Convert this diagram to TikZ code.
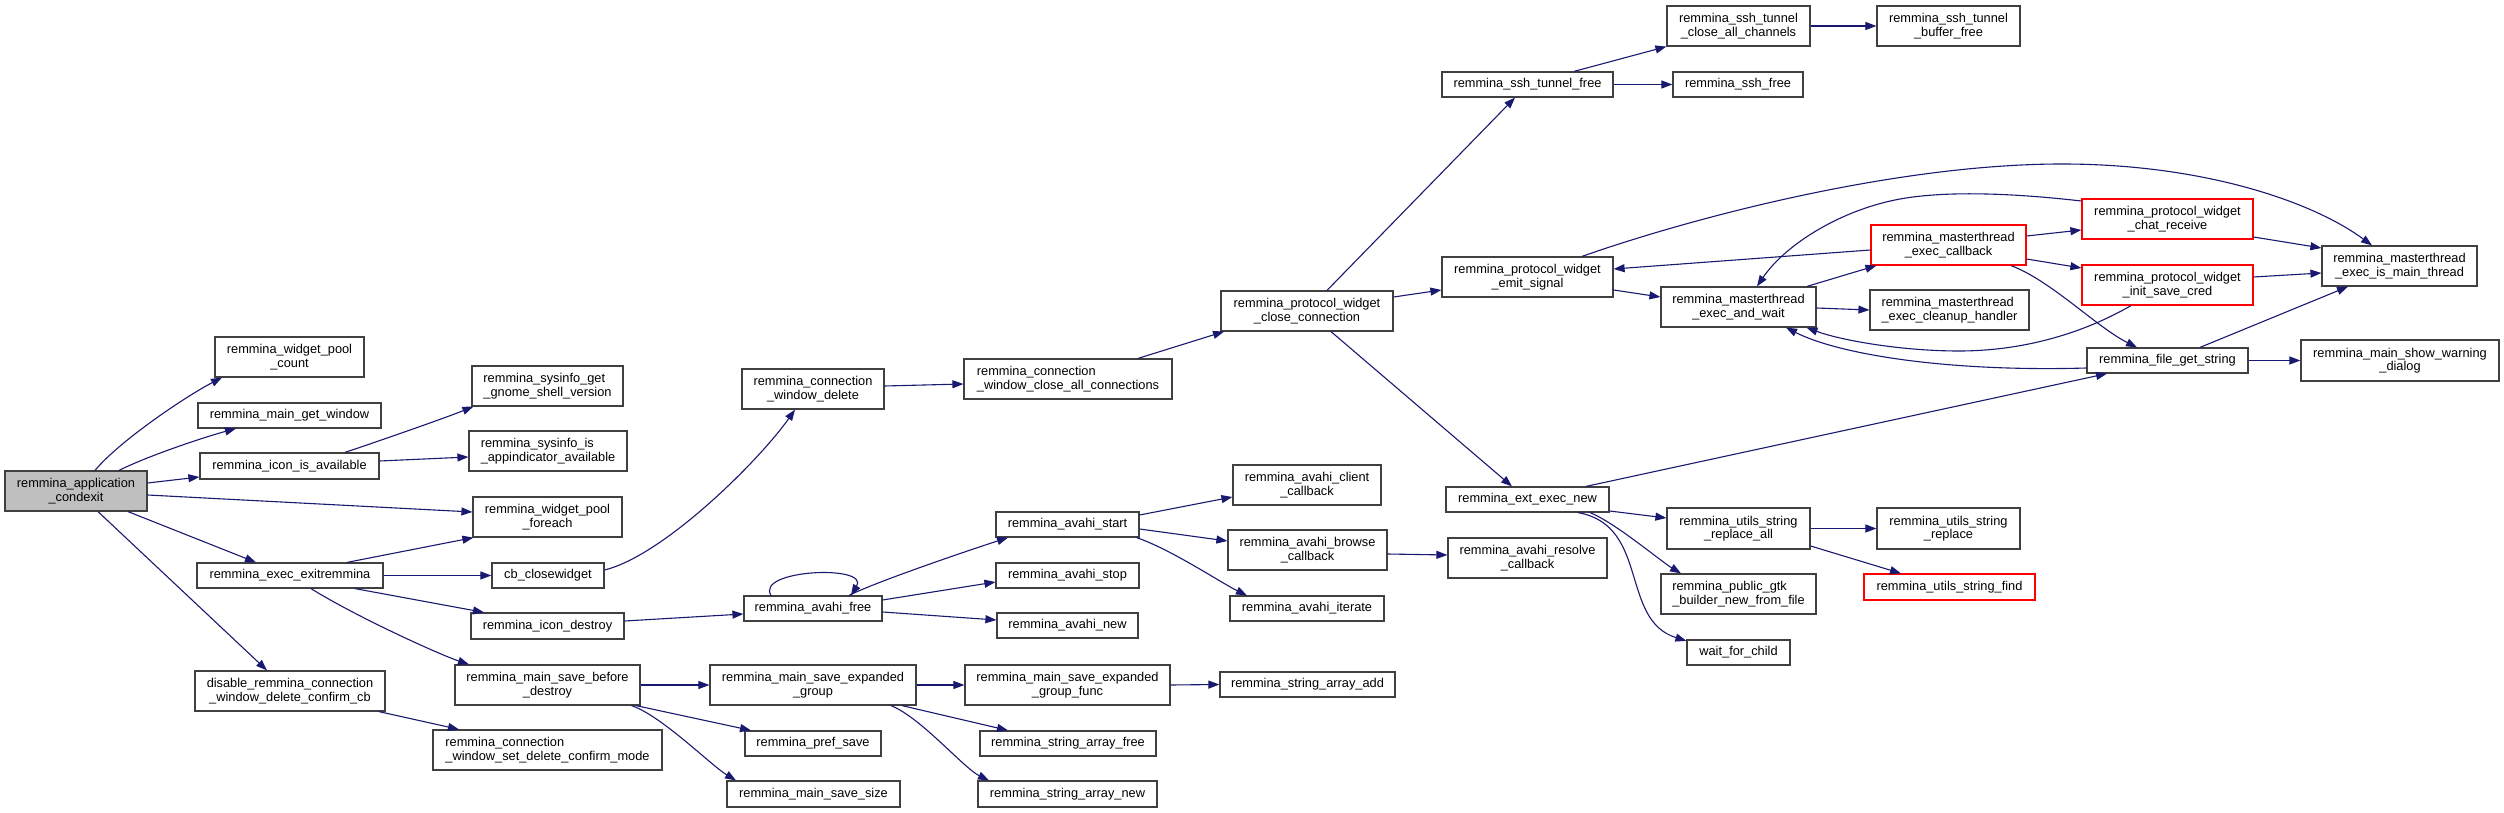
\documentclass[tikz,border=0pt]{standalone}
\usepackage{fontspec}
\usetikzlibrary{arrows.meta}
\newfontfamily\fnfont{Liberation Sans}
\definecolor{edgeblue}{HTML}{191970}
\definecolor{boxline}{HTML}{404040}
\newcommand\mkfn[6]{\node[#1,minimum width=#4pt,minimum height=#5pt] (#2) at (#3) {#6};}
\tikzset{
  fn/.style={draw=boxline, line width=1.2pt, fill=white, inner sep=0pt, align=center,
    font={\fnfont\fontsize{12.8pt}{13.6pt}\selectfont}},
  fnl/.style={fn, align=left},
  fnred/.style={fn, draw=red},
  fnroot/.style={fn, fill=black!25},
  call/.style={draw=edgeblue, line width=1.1pt, -{Triangle[length=11pt,width=8pt]}},
}
\begin{document}
\begin{tikzpicture}[x=1pt,y=-1pt]
\path[fill=white, use as bounding box] (0,0) rectangle (2504,813);

\mkfn{fnroot}{root}{76,491}{142}{40}{remmina\_application\\\_condexit}
\mkfn{fn}{wpcount}{289.5,357}{149}{40}{remmina\_widget\_pool\\\_count}
\mkfn{fn}{getwin}{289.5,415.5}{183}{25}{remmina\_main\_get\_window}
\mkfn{fn}{iconavail}{289.5,466}{179}{26}{remmina\_icon\_is\_available}
\mkfn{fn}{exitrem}{290,575.5}{186}{25}{remmina\_exec\_exitremmina}
\mkfn{fn}{disable}{290,691}{190}{40}{disable\_remmina\_connection\\\_window\_delete\_confirm\_cb}
\mkfn{fnl}{sysget}{547.5,386}{151}{40}{remmina\_sysinfo\_get\\\_gnome\_shell\_version}
\mkfn{fnl}{sysis}{548,451}{158}{40}{remmina\_sysinfo\_is\\\_appindicator\_available}
\mkfn{fn}{wpforeach}{547.5,517}{149}{40}{remmina\_widget\_pool\\\_foreach}
\mkfn{fn}{cbclose}{548,575.5}{112}{25}{cb\_closewidget}
\mkfn{fn}{icondestroy}{547.5,626}{153}{26}{remmina\_icon\_destroy}
\mkfn{fn}{savebefore}{547.5,685}{185}{40}{remmina\_main\_save\_before\\\_destroy}
\mkfn{fnl}{setconfirm}{547.5,750}{229}{40}{remmina\_connection\\\_window\_set\_delete\_confirm\_mode}
\mkfn{fn}{connwindel}{813,389}{142}{40}{remmina\_connection\\\_window\_delete}
\mkfn{fn}{avahifree}{813,608.5}{138}{25}{remmina\_avahi\_free}
\mkfn{fn}{saveexp}{813,685}{206}{40}{remmina\_main\_save\_expanded\\\_group}
\mkfn{fn}{prefsave}{813,743.5}{136}{25}{remmina\_pref\_save}
\mkfn{fn}{savesize}{813.5,794}{173}{26}{remmina\_main\_save\_size}
\mkfn{fnl}{closeall}{1068,379}{208}{40}{remmina\_connection\\\_window\_close\_all\_connections}
\mkfn{fn}{avahistart}{1067.5,524.5}{143}{25}{remmina\_avahi\_start}
\mkfn{fn}{avahistop}{1067.5,575.5}{143}{25}{remmina\_avahi\_stop}
\mkfn{fn}{avahinew}{1067.5,625.5}{141}{25}{remmina\_avahi\_new}
\mkfn{fn}{expfunc}{1067.5,685}{205}{40}{remmina\_main\_save\_expanded\\\_group\_func}
\mkfn{fn}{strfree}{1068,743.5}{176}{25}{remmina\_string\_array\_free}
\mkfn{fn}{strnew}{1067.5,794}{179}{26}{remmina\_string\_array\_new}
\mkfn{fn}{closeconn}{1307,311}{172}{40}{remmina\_protocol\_widget\\\_close\_connection}
\mkfn{fn}{clientcb}{1307,485}{148}{40}{remmina\_avahi\_client\\\_callback}
\mkfn{fn}{browsecb}{1307.5,550}{159}{40}{remmina\_avahi\_browse\\\_callback}
\mkfn{fn}{iterate}{1307,608.5}{154}{25}{remmina\_avahi\_iterate}
\mkfn{fn}{strarradd}{1307.5,684.5}{175}{25}{remmina\_string\_array\_add}
\mkfn{fn}{sshtunfree}{1527.5,84.5}{171}{25}{remmina\_ssh\_tunnel\_free}
\mkfn{fn}{emitsig}{1527.5,277}{171}{40}{remmina\_protocol\_widget\\\_emit\_signal}
\mkfn{fn}{extexec}{1527.5,499.5}{163}{25}{remmina\_ext\_exec\_new}
\mkfn{fn}{resolvecb}{1527.5,558}{159}{40}{remmina\_avahi\_resolve\\\_callback}
\mkfn{fn}{closechan}{1738.5,26}{143}{40}{remmina\_ssh\_tunnel\\\_close\_all\_channels}
\mkfn{fn}{sshfree}{1738,84.5}{130}{25}{remmina\_ssh\_free}
\mkfn{fn}{execwait}{1738.5,307}{155}{40}{remmina\_masterthread\\\_exec\_and\_wait}
\mkfn{fn}{replall}{1738.5,528.5}{143}{41}{remmina\_utils\_string\\\_replace\_all}
\mkfn{fnl}{gtkbuilder}{1738.5,594}{155}{40}{remmina\_public\_gtk\\\_builder\_new\_from\_file}
\mkfn{fn}{waitchild}{1738.5,652.5}{103}{25}{wait\_for\_child}
\mkfn{fn}{bufffree}{1948.5,26}{143}{40}{remmina\_ssh\_tunnel\\\_buffer\_free}
\mkfn{fnred}{execcb}{1948.5,245}{155}{40}{remmina\_masterthread\\\_exec\_callback}
\mkfn{fnl}{cleanup}{1949.5,310}{159}{40}{remmina\_masterthread\\\_exec\_cleanup\_handler}
\mkfn{fn}{strreplace}{1948.5,528.5}{143}{41}{remmina\_utils\_string\\\_replace}
\mkfn{fnred}{strfind}{1949.5,587}{171}{26}{remmina\_utils\_string\_find}
\mkfn{fnred}{chatrecv}{2167.5,219}{171}{40}{remmina\_protocol\_widget\\\_chat\_receive}
\mkfn{fnred}{initcred}{2167.5,285}{171}{40}{remmina\_protocol\_widget\\\_init\_save\_cred}
\mkfn{fn}{filegetstr}{2167.5,360.5}{161}{25}{remmina\_file\_get\_string}
\mkfn{fn}{mainthread}{2399.5,266}{155}{40}{remmina\_masterthread\\\_exec\_is\_main\_thread}
\mkfn{fn}{warning}{2400,360.5}{198}{41}{remmina\_main\_show\_warning\\\_dialog}

% root
\draw[call] ([xshift=19pt]root.north) .. controls +(25,-30) and +(-35,18) .. ([xshift=-67.5pt]wpcount.south);
\draw[call] ([xshift=43pt]root.north) .. controls +(30,-15) and +(-30,8) .. ([xshift=-53.5pt]getwin.south);
\draw[call] ([yshift=8pt]root.east) -- ([yshift=-11pt]iconavail.west);
\draw[call] ([yshift=-4pt]root.east) -- ([yshift=5pt]wpforeach.west);
\draw[call] ([xshift=52pt]root.south) -- ([xshift=-34pt]exitrem.north);
\draw[call] ([xshift=22pt]root.south) -- ([xshift=-23pt]disable.north);
% column 1
\draw[call] ([xshift=55.5pt]iconavail.north) .. controls +(30,-10) and +(-30,12) .. ([xshift=2pt]sysget.south west);
\draw[call] ([yshift=5pt]iconavail.east) -- ([yshift=-6pt]sysis.west);
\draw[call] ([xshift=57pt]exitrem.north) -- ([xshift=1pt]wpforeach.south west);
\draw[call] (exitrem.east) -- (cbclose.west);
\draw[call] ([xshift=65pt]exitrem.south) -- ([xshift=-63.5pt]icondestroy.north);
\draw[call] ([xshift=21pt]exitrem.south) .. controls +(45,28) and +(-30,-10) .. ([xshift=-78.5pt]savebefore.north);
\draw[call] ([xshift=89pt]disable.south) -- ([xshift=-88.5pt]setconfirm.north);
% column 2
\draw[call] ([yshift=5.5pt]cbclose.east) .. controls +(60,-15) and +(-35,50) .. ([xshift=-18pt]connwindel.south);
\draw[call] ([yshift=5pt]icondestroy.east) -- ([yshift=-5.5pt]avahifree.west);
\draw[call] (savebefore.east) -- (saveexp.west);
\draw[call] ([xshift=88.5pt]savebefore.south) -- ([xshift=-62pt]prefsave.north);
\draw[call] ([xshift=84pt]savebefore.south) .. controls +(30,10) and +(-25,-15) .. ([xshift=-77.5pt]savesize.north);
% column 3
\draw[call] ([yshift=3pt]connwindel.east) -- ([yshift=-5pt]closeall.west);
\draw[call] ([xshift=-42pt]avahifree.north) .. controls +(-16,-26) and +(19,-31) .. ([xshift=38pt]avahifree.north);
\draw[call] ([xshift=36pt]avahifree.north) .. controls +(30,-15) and +(-25,8) .. ([xshift=-59.5pt]avahistart.south);
\draw[call] ([yshift=8.5pt]avahifree.east) -- ([yshift=-6.5pt]avahistop.west);
\draw[call] ([yshift=-3.5pt]avahifree.east) -- ([yshift=5.5pt]avahinew.west);
\draw[call] (saveexp.east) -- (expfunc.west);
\draw[call] ([xshift=89pt]saveexp.south) -- ([xshift=-60pt]strfree.north);
\draw[call] ([xshift=78pt]saveexp.south) .. controls +(30,12) and +(-25,-12) .. ([xshift=-78.5pt]strnew.north);
% column 4
\draw[call] ([xshift=70pt]closeall.north) -- ([xshift=-83pt]closeconn.south);
\draw[call] ([yshift=9.5pt]avahistart.east) -- ([yshift=-12pt]clientcb.west);
\draw[call] ([yshift=-4.5pt]avahistart.east) -- ([yshift=9pt]browsecb.west);
\draw[call] ([xshift=-3pt]avahistart.south east) .. controls +(35,12) and +(-25,-12) .. ([xshift=-60pt]iterate.north);
\draw[call] (expfunc.east) -- (strarradd.west);
% column 5
\draw[call] ([xshift=20pt]closeconn.north) -- ([xshift=-12.5pt]sshtunfree.south);
\draw[call] ([yshift=14pt]closeconn.east) -- ([yshift=-13pt]emitsig.west);
\draw[call] ([xshift=24pt]closeconn.south) -- ([xshift=-15.5pt]extexec.north);
\draw[call] ([yshift=-4pt]browsecb.east) -- ([yshift=3pt]resolvecb.west);
% column 6
\draw[call] ([xshift=46.5pt]sshtunfree.north) -- (closechan.south west);
\draw[call] (sshtunfree.east) -- (sshfree.west);
\draw[call] ([yshift=-13pt]emitsig.east) -- ([yshift=10pt]execwait.west);
\draw[call] ([xshift=54.5pt]emitsig.north) .. controls (1700,215) and (1900,164) .. (2062,164) .. controls (2200,164) and (2310,200) .. ([xshift=-27.5pt]mainthread.north);
\draw[call] ([xshift=58.5pt]extexec.north) -- ([xshift=-60.5pt]filegetstr.south);
\draw[call] ([yshift=-11.5pt]extexec.east) -- ([yshift=10.5pt]replall.west);
\draw[call] ([xshift=62.5pt]extexec.south) .. controls +(25,10) and +(-20,-12) .. ([xshift=-57.5pt]gtkbuilder.north);
\draw[call] ([xshift=50.5pt]extexec.south) .. controls +(72,13) and +(-67,-21) .. ([yshift=-1.5pt]waitchild.north west);
% column 7
\draw[call] (closechan.east) -- (bufffree.west);
\draw[call] ([xshift=68.5pt]execwait.north) -- ([xshift=6pt]execcb.south west);
\draw[call] ([yshift=-1pt]execwait.east) -- (cleanup.west);
\draw[call] (replall.east) -- (strreplace.west);
\draw[call] ([yshift=-17.5pt]replall.east) -- ([xshift=-48.5pt]strfind.north);
% column 8
\draw[call] ([yshift=-5pt]execcb.west) -- ([yshift=8pt]emitsig.east);
\draw[call] ([yshift=9pt]execcb.east) -- ([yshift=-11pt]chatrecv.west);
\draw[call] ([yshift=-14pt]execcb.east) -- ([yshift=17pt]initcred.west);
\draw[call] ([xshift=62.5pt]execcb.south) .. controls +(40,15) and +(-40,-20) .. ([xshift=-30.5pt]filegetstr.north);
% column 9
\draw[call] ([yshift=18pt]chatrecv.west) .. controls (2020,194) and (1950,190) .. (1900,199) .. controls (1840,210) and (1785,245) .. ([xshift=18.5pt]execwait.north);
\draw[call] ([yshift=-18pt]chatrecv.east) -- ([yshift=18pt]mainthread.west);
\draw[call] ([yshift=8pt]initcred.east) -- ([yshift=-7pt]mainthread.west);
\draw[call] ([xshift=-36.5pt]initcred.south) .. controls (2080,335) and (2020,351) .. (1959,351) .. controls (1900,351) and (1840,340) .. ([xshift=68pt]execwait.south);
\draw[call] ([yshift=-7.5pt]filegetstr.west) .. controls (1950,372) and (1840,355) .. ([xshift=47.5pt]execwait.south);
\draw[call] ([xshift=32.5pt]filegetstr.north) -- ([xshift=-51.5pt]mainthread.south);
\draw[call] (filegetstr.east) -- (warning.west);
\end{tikzpicture}
\end{document}
